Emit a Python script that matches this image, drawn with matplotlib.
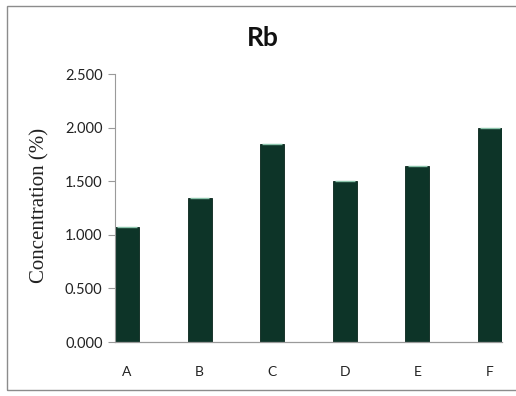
import matplotlib
matplotlib.use("Agg")
import matplotlib.pyplot as plt
from matplotlib.patches import Rectangle

categories = ["A", "B", "C", "D", "E", "F"]
values = [1.073, 1.345, 1.848, 1.500, 1.645, 1.995]
yticks = [0.0, 0.5, 1.0, 1.5, 2.0, 2.5]
ytick_labels = ["0.000", "0.500", "1.000", "1.500", "2.000", "2.500"]

fig = plt.figure(figsize=(5.16, 3.96), dpi=100)
fig.patch.set_facecolor("white")

# outer chart frame (right edge lies outside the picture)
fig.add_artist(Rectangle((7/516, 6/396), 2.0, 384/396, transform=fig.transFigure,
                         fill=False, edgecolor="#8c8c8c", linewidth=1.0))

ax = fig.add_axes([115/516, 1 - 342/396, 387/516, (342 - 74)/396])
w = 0.33
x = list(range(len(categories)))
ax.bar(x, values, width=w, color="#0d3428", edgecolor="#08241b", linewidth=0.6, zorder=2)
ax.hlines(values, [i - w/2 + 0.03 for i in x], [i + w/2 - 0.03 for i in x],
          colors="#8cc4ac", linewidth=1.0, zorder=3)

ax.set_xlim(-w/2, len(categories) - 1 + w/2)
ax.set_ylim(0, 2.5)
ax.set_yticks(yticks)
ax.set_yticklabels(ytick_labels, fontfamily="Lato", fontsize=10.5, color="#222222")
ax.set_xticks(x)
ax.set_xticklabels(categories, fontfamily="Lato", fontsize=10, color="#222222")
ax.tick_params(axis="x", length=0, pad=17)
ax.tick_params(axis="y", length=5, width=0.8, color="#9a9a9a", pad=4)

for s in ["top", "right"]:
    ax.spines[s].set_visible(False)
ax.spines["left"].set_color("#9a9a9a")
ax.spines["bottom"].set_color("#9a9a9a")
ax.spines["left"].set_linewidth(0.8)
ax.spines["bottom"].set_linewidth(0.9)

fig.text(40/516, 1 - 205/396, "Concentration (%)", rotation=90, ha="center", va="center",
         fontfamily="Liberation Serif", fontsize=15, color="#222222")
fig.text(263/516, 1 - 38/396, "Rb", ha="center", va="center", fontfamily="Lato",
         fontweight="bold", fontsize=19, color="#111111")

fig.savefig("out.png", dpi=100)
